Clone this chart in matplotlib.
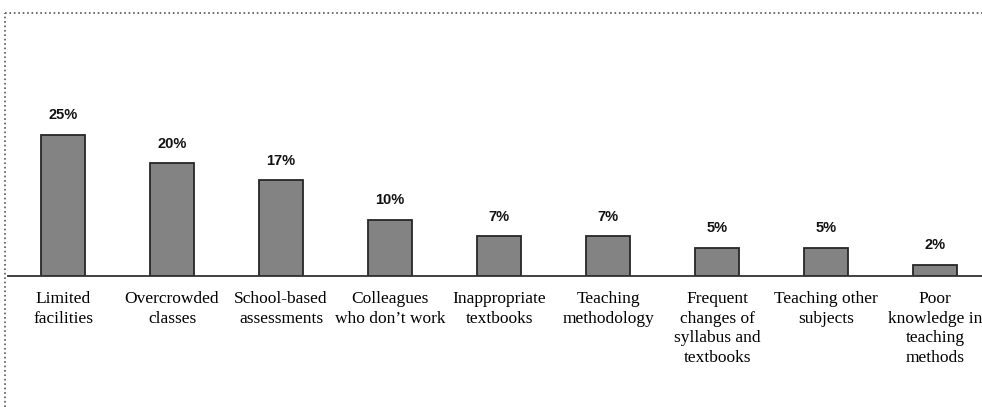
import matplotlib.pyplot as plt
from matplotlib.lines import Line2D

# Data
categories = [
    "Limited\nfacilities", "Overcrowded\nclasses", "School-based\nassessments",
    "Colleagues\nwho don\u2019t work", "Inappropriate\ntextbooks", "Teaching\nmethodology",
    "Frequent\nchanges of\nsyllabus and\ntextbooks", "Teaching other\nsubjects",
    "Poor\nknowledge in\nteaching\nmethods",
]
percent = [25, 20, 17, 10, 7, 7, 5, 5, 2]
value_labels = ["25%", "20%", "17%", "10%", "7%", "7%", "5%", "5%", "2%"]

fig = plt.figure(figsize=(9.82, 4.07), dpi=100)
ax = fig.add_axes([8 / 982, (407 - 276) / 407, 1 - 8 / 982, (276 - 13) / 407])

x = list(range(len(categories)))
bars = ax.bar(x, percent, width=0.41, color='#838383', edgecolor='#262626', linewidth=1.3)

for bar, lab in zip(bars, value_labels):
    ax.annotate(lab, (bar.get_x() + bar.get_width() / 2, bar.get_height()),
                xytext=(0, 9), textcoords='offset points', ha='center', va='bottom',
                fontsize=10.5, fontweight='bold', family='Liberation Sans', color='#111111')

ax.set_xlim(-0.505, 8.43)
ax.set_ylim(0, 46.6)
ax.set_xticks(x)
ax.set_xticklabels(categories, family='Liberation Serif', fontsize=12.5, linespacing=1.3)
ax.tick_params(axis='x', length=0, pad=11)
ax.set_yticks([])
for s in ['left', 'right', 'top']:
    ax.spines[s].set_visible(False)
ax.spines['bottom'].set_color('#333333')
ax.spines['bottom'].set_linewidth(1.3)

# dotted outer frame (left and top)
fig.add_artist(Line2D([5 / 982, 5 / 982], [0, 1 - 13 / 407], transform=fig.transFigure,
                      color='#555555', linestyle=':', linewidth=1.2))
fig.add_artist(Line2D([5 / 982, 1], [1 - 13 / 407, 1 - 13 / 407], transform=fig.transFigure,
                      color='#555555', linestyle=':', linewidth=1.2))

plt.savefig('out.png', dpi=100)
